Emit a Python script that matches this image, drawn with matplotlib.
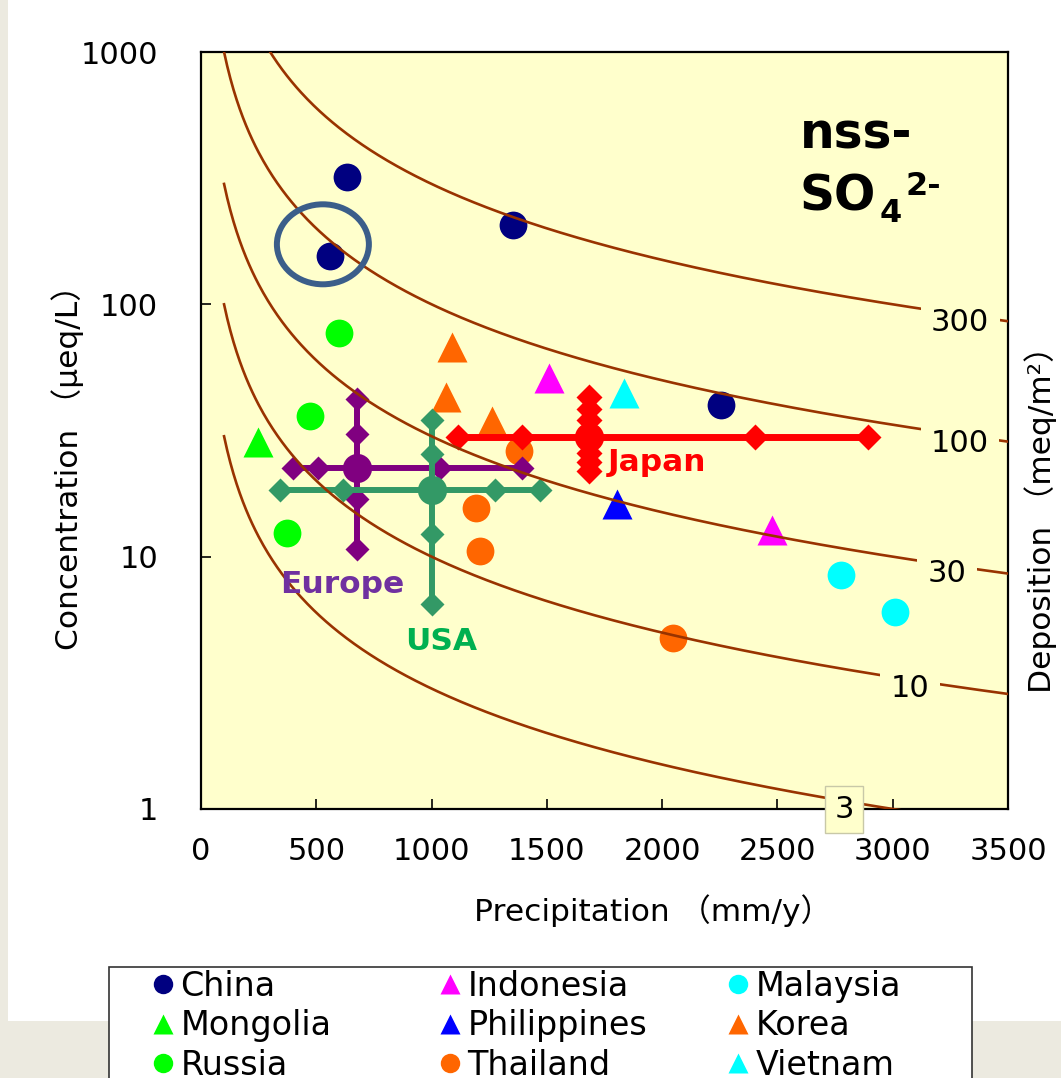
import numpy as np
import matplotlib
matplotlib.use('Agg')
import matplotlib.pyplot as plt
from matplotlib.lines import Line2D
from matplotlib.patches import Rectangle, Ellipse
from matplotlib.ticker import FixedLocator, FixedFormatter, NullLocator

plt.rcParams['font.family'] = ['DejaVu Sans', 'Noto Sans CJK JP']

# ---------------- data (precipitation mm/y, concentration ueq/L) ----------------
china_x = [633, 1353, 559, 2255]
china_y = [321, 207, 155, 40]
mongolia_x = [247]
mongolia_y = [28.5]
russia_x = [598, 473, 373]
russia_y = [76.8, 36, 12.4]
indonesia_x = [1509, 2476]
indonesia_y = [51, 12.7]
philippines_x = [1804]
philippines_y = [16.1]
thailand_x = [1379, 1193, 1210, 2047]
thailand_y = [26.2, 15.6, 10.5, 4.74]
malaysia_x = [2776, 3010]
malaysia_y = [8.49, 6.05]
korea_x = [1089, 1063, 1262]
korea_y = [68, 43, 34.5]
vietnam_x = [1835]
vietnam_y = [44.5]

# regional summaries: centre point, horizontal-range diamonds, vertical-range diamonds
japan_center = (1683, 29.8)
japan_h = [1115, 1392, 2403, 2893]
japan_v = [42.9, 38.5, 34.8, 25.8, 23.7, 21.9]
europe_center = (677, 22.5)
europe_h = [399, 507, 1037, 1392]
europe_v = [42.1, 30.6, 16.9, 10.75]
usa_center = (1002, 18.4)
usa_h = [343, 616, 1275, 1470]
usa_v = [34.8, 25.5, 12.3, 6.52]

# iso-deposition lines (meq/m2) and where their labels sit (precipitation)
dep_levels = [3, 10, 30, 100, 300]
dep_label_x = [2789, 3075, 3235, 3292, 3292]

x_ticks = [0, 500, 1000, 1500, 2000, 2500, 3000, 3500]
y_ticks = [1, 10, 100, 1000]
y_ticklabels = ['1', '10', '100', '1000']

highlight_index = 2  # circled China point

# ---------------- styles ----------------
BG = '#FFFFCC'
CURVE = '#993300'
C_CHINA = '#000080'
C_GREEN = '#00FF00'
C_ORANGE = '#FF6600'
C_MAG = '#FF00FF'
C_BLUE = '#0000FF'
C_CYAN = '#00FFFF'
C_JAPAN = '#FF0000'
C_EUROPE = '#800080'
C_USA = '#339966'

fig = plt.figure(figsize=(10.61, 10.78), dpi=100)
fig.patch.set_facecolor('white')
# page background strips
fig.patches.append(Rectangle((0, 0), 1, 1 - 1021 / 1078, transform=fig.transFigure,
                             facecolor='#ECEAE0', edgecolor='none', zorder=0))
fig.patches.append(Rectangle((0, 0), 8 / 1061, 1, transform=fig.transFigure,
                             facecolor='#ECEAE0', edgecolor='none', zorder=0))

ax = fig.add_axes([201 / 1061, 1 - 809 / 1078, 807 / 1061, 757 / 1078])
ax.set_facecolor(BG)
ax.set_yscale('log')
ax.set_xlim(0, 3500)
ax.set_ylim(1, 1000)

for sp in ax.spines.values():
    sp.set_linewidth(1.6)
    sp.set_color('black')

ax.xaxis.set_major_locator(FixedLocator(x_ticks))
ax.yaxis.set_major_locator(FixedLocator(y_ticks))
ax.yaxis.set_major_formatter(FixedFormatter(y_ticklabels))
ax.yaxis.set_minor_locator(NullLocator())
ax.tick_params(axis='both', direction='in', length=7, width=1.2, labelsize=22)
ax.tick_params(axis='y', pad=31)
ax.tick_params(axis='x', pad=20)

ax.set_xlabel('Precipitation （mm/y）', fontsize=22.5)
ax.xaxis.set_label_coords(0.560, -0.112)
ax.set_ylabel('Concentration （μeq/L）', fontsize=22.5)
ax.yaxis.set_label_coords(-0.145, 0.461)
ax.text(1.040, 0.393, 'Deposition （meq/m²）', transform=ax.transAxes, rotation=90,
        ha='center', va='center', fontsize=22.5)

# ---------------- country points ----------------
ms_c = 20
ms_t = 21
ax.plot(china_x, china_y, 'o', color=C_CHINA, ms=ms_c, mec='none', zorder=3)
ax.plot(russia_x, russia_y, 'o', color=C_GREEN, ms=ms_c, mec='none', zorder=3)
ax.plot(mongolia_x, mongolia_y, '^', color=C_GREEN, ms=ms_t, mec='none', zorder=3)
ax.plot(korea_x, korea_y, '^', color=C_ORANGE, ms=ms_t, mec='none', zorder=3)
ax.plot(thailand_x, thailand_y, 'o', color=C_ORANGE, ms=ms_c, mec='none', zorder=3)
ax.plot(indonesia_x, indonesia_y, '^', color=C_MAG, ms=ms_t, mec='none', zorder=3)
ax.plot(philippines_x, philippines_y, '^', color=C_BLUE, ms=ms_t, mec='none', zorder=3)
ax.plot(malaysia_x, malaysia_y, 'o', color=C_CYAN, ms=ms_c, mec='none', zorder=3)
ax.plot(vietnam_x, vietnam_y, '^', color=C_CYAN, ms=ms_t, mec='none', zorder=3)


def cross(center, hx, vy, color, lw, dms):
    cx, cy = center
    ax.plot([min(hx + [cx]), max(hx + [cx])], [cy, cy], '-', color=color, lw=lw, zorder=3)
    ax.plot([cx, cx], [min(vy + [cy]), max(vy + [cy])], '-', color=color, lw=lw, zorder=3)
    ax.plot(hx, [cy] * len(hx), 'D', color=color, ms=dms, mec='none', zorder=3)
    ax.plot([cx] * len(vy), vy, 'D', color=color, ms=dms, mec='none', zorder=3)
    ax.plot([cx], [cy], 'o', color=color, ms=21, mec='none', zorder=3)


cross(europe_center, europe_h, europe_v, C_EUROPE, 4.3, 12)
cross(usa_center, usa_h, usa_v, C_USA, 4.3, 12)
cross(japan_center, japan_h, japan_v, C_JAPAN, 5, 13)

ax.text(1765, 23.7, 'Japan', color='#FF0000', fontsize=22.5, fontweight='bold',
        ha='left', va='center', zorder=6)
ax.text(343, 7.75, 'Europe', color='#7030A0', fontsize=22.5, fontweight='bold',
        ha='left', va='center', zorder=6)
ax.text(885, 4.61, 'USA', color='#00B050', fontsize=22.5, fontweight='bold',
        ha='left', va='center', zorder=6)

# ---------------- iso-deposition curves ----------------
px = np.linspace(100, 3500, 500)
for dep, lx in zip(dep_levels, dep_label_x):
    ax.plot(px, dep * 1000.0 / px, '-', color=CURVE, lw=1.9, zorder=4)
    ly = dep * 1000.0 / lx
    if dep == 3:
        bb = dict(boxstyle='square,pad=0.3', fc=BG, ec='#C8C8A8', lw=1)
    else:
        bb = dict(boxstyle='square,pad=0.34', fc=BG, ec='none')
    ax.annotate(str(dep), (lx, ly), xytext=(0, -6), textcoords='offset points',
                ha='center', va='center', fontsize=22, bbox=bb, zorder=10,
                annotation_clip=False)

# ---------------- title ----------------
ax.text(0.742, 0.873, 'nss-', transform=ax.transAxes, fontsize=35, fontweight='bold',
        ha='left', va='baseline', zorder=6)
so = ax.text(0.742, 0.791, 'SO', transform=ax.transAxes, fontsize=35, fontweight='bold',
             ha='left', va='baseline', zorder=6)
fig.canvas.draw()
so_bb = so.get_window_extent()
# baseline of "SO" in display coords
so_base = ax.transAxes.transform((0.742, 0.791))[1]
so_right = so_bb.x1
inv = ax.transAxes.inverted()
p4 = inv.transform((so_right + 3, so_base - 12))
ax.text(p4[0], p4[1], '4', transform=ax.transAxes, fontsize=23, fontweight='bold',
        ha='left', va='baseline', zorder=6)
p2 = inv.transform((so_right + 29, so_base + 15))
ax.text(p2[0], p2[1], '2-', transform=ax.transAxes, fontsize=23, fontweight='bold',
        ha='left', va='baseline', zorder=6)

# ---------------- highlight ellipse around a China point ----------------
hx_, hy_ = china_x[highlight_index], china_y[highlight_index]
disp = ax.transData.transform((hx_, hy_))
axc = inv.transform(disp)
bbox = ax.get_window_extent()
ell = Ellipse((axc[0] - 7 / bbox.width, axc[1] + 12 / bbox.height),
              92 / bbox.width, 80 / bbox.height, transform=ax.transAxes,
              fill=False, edgecolor='#3B5E8A', lw=4.3, zorder=7)
ax.add_patch(ell)

# ---------------- legend ----------------
fig.patches.append(Rectangle((109 / 1061, -0.05), (972 - 109) / 1061, (1 - 967 / 1078) + 0.05,
                             transform=fig.transFigure, facecolor='white',
                             edgecolor='#333333', lw=1.2, zorder=1))

legend_cols = [
    [('China', 'o', C_CHINA), ('Mongolia', '^', C_GREEN), ('Russia', 'o', C_GREEN)],
    [('Indonesia', '^', C_MAG), ('Philippines', '^', C_BLUE), ('Thailand', 'o', C_ORANGE)],
    [('Malaysia', 'o', C_CYAN), ('Korea', '^', C_ORANGE), ('Vietnam', '^', C_CYAN)],
]
col_x = [152, 439, 727]
for items, cx in zip(legend_cols, col_x):
    handles = [Line2D([], [], ls='', marker=m, color=c, mec='none', ms=14)
               for _, m, c in items]
    labels = [n for n, _, _ in items]
    fig.legend(handles, labels, loc='upper left', bbox_to_anchor=(cx / 1061, 1 - 970 / 1078),
               ncol=1, frameon=False, fontsize=24, handlelength=0.65, handletextpad=0.2,
               labelspacing=0.19, borderpad=0, borderaxespad=0)

fig.savefig('out.png', dpi=100, facecolor=fig.get_facecolor())
